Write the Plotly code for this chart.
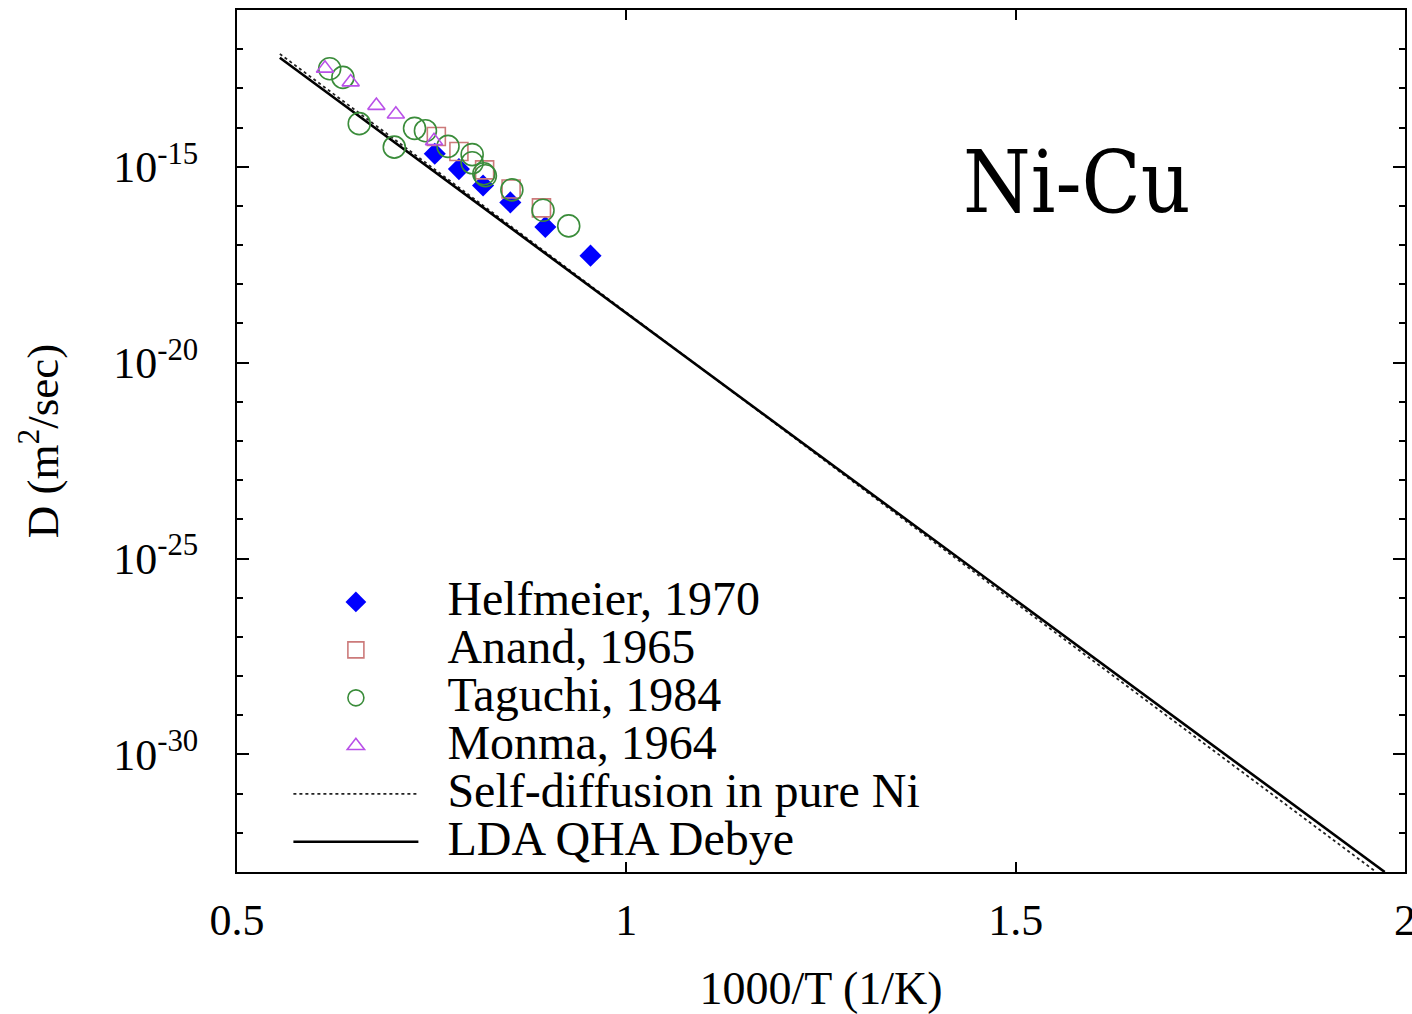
import plotly.graph_objects as go

# ---- data ----
helf_x = [0.754, 0.785, 0.816, 0.851, 0.896, 0.954]
helf_logD = [-14.67, -15.06, -15.48, -15.91, -16.54, -17.27]

anand_x = [0.756, 0.785, 0.818, 0.852, 0.891]
anand_logD = [-14.23, -14.61, -15.08, -15.57, -16.05]

tag_x = [0.619, 0.636, 0.657, 0.702, 0.728, 0.742, 0.771, 0.802, 0.802, 0.817, 0.819, 0.853, 0.893, 0.926]
tag_logD = [-12.50, -12.72, -13.90, -14.50, -14.02, -14.08, -14.48, -14.69, -14.90, -15.18, -15.23, -15.59, -16.11, -16.51]

monma_x = [0.613, 0.646, 0.679, 0.704, 0.753]
monma_logD = [-12.49, -12.84, -13.44, -13.66, -14.34]

self_x = [0.555, 1.963]
self_logD = [-12.12, -33.0]

lda_x = [0.555, 1.974]
lda_logD = [-12.22, -33.0]

x_ticks = [0.5, 1, 1.5, 2]
x_ticklabels = ["0.5", "1", "1.5", "2"]
y_major_exp = [-15, -20, -25, -30]
y_minor_exp = list(range(-32, -10))

def D(vals):
    return [10 ** v for v in vals]

LEG = "<span style='font-size:48px'>&nbsp;&nbsp;{}</span>"
SERIF = "Liberation Serif, Times New Roman, serif"

fig = go.Figure()

fig.add_trace(go.Scatter(x=self_x, y=D(self_logD), mode="lines",
                         name=LEG.format("Self-diffusion in pure Ni"), legendrank=5,
                         line=dict(color="#222222", width=1.8, dash="dot")))
fig.add_trace(go.Scatter(x=lda_x, y=D(lda_logD), mode="lines",
                         name=LEG.format("LDA QHA Debye"), legendrank=6,
                         line=dict(color="black", width=2.6)))
fig.add_trace(go.Scatter(x=helf_x, y=D(helf_logD), mode="markers",
                         name=LEG.format("Helfmeier, 1970"), legendrank=1,
                         marker=dict(symbol="diamond", size=17, color="#0000ff",
                                     line=dict(width=0))))
fig.add_trace(go.Scatter(x=anand_x, y=D(anand_logD), mode="markers",
                         name=LEG.format("Anand, 1965"), legendrank=2,
                         marker=dict(symbol="square-open", size=18, color="#cc7a7a",
                                     line=dict(width=1.6, color="#cc7a7a"))))
fig.add_trace(go.Scatter(x=tag_x, y=D(tag_logD), mode="markers",
                         name=LEG.format("Taguchi, 1984"), legendrank=3,
                         marker=dict(symbol="circle-open", size=22, color="#3a8c3a",
                                     line=dict(width=1.6, color="#3a8c3a"))))
fig.add_trace(go.Scatter(x=monma_x, y=D(monma_logD), mode="markers",
                         name=LEG.format("Monma, 1964"), legendrank=4,
                         marker=dict(symbol="triangle-up-open", size=15, color="#b950e8",
                                     line=dict(width=1.6, color="#b950e8"))))

fig.update_layout(
    width=1412, height=1014,
    margin=dict(l=237, r=7, t=10, b=142, autoexpand=False),
    paper_bgcolor="white", plot_bgcolor="white",
    font=dict(family=SERIF, size=44, color="black"),
    showlegend=True,
    legend=dict(x=0.044, y=0.347, xanchor="left", yanchor="top",
                bgcolor="rgba(0,0,0,0)", borderwidth=0,
                font=dict(family=SERIF, size=34.6, color="black"),
                itemwidth=125, itemsizing="trace", tracegroupgap=0),
    xaxis=dict(range=[0.5, 2.0], tickmode="array", tickvals=x_ticks, ticktext=x_ticklabels,
               ticks="inside", ticklen=10, tickwidth=1.5, tickcolor="black",
               showline=True, linecolor="black", linewidth=2, mirror="ticks",
               showgrid=False, zeroline=False, ticklabelstandoff=8,
               ticklabeloverflow="allow", automargin=False,
               tickfont=dict(family=SERIF, size=44),
               title=dict(text="1000/T (1/K)", font=dict(family=SERIF, size=46), standoff=30)),
    yaxis=dict(type="log", range=[-33, -11], tickmode="array",
               tickvals=[10 ** e for e in y_major_exp],
               ticktext=["10<sup>%d</sup>" % e for e in y_major_exp],
               ticks="inside", ticklen=12, tickwidth=1.5, tickcolor="black",
               showline=True, linecolor="black", linewidth=2, mirror="ticks",
               showgrid=False, zeroline=False, ticklabelstandoff=28, automargin=False,
               tickfont=dict(family=SERIF, size=44),
               minor=dict(tickmode="array", tickvals=[10 ** e for e in y_minor_exp],
                          ticks="inside", ticklen=6, tickwidth=1.5, tickcolor="black",
                          showgrid=False),
               title=dict(text="D (m<sup>2</sup>/sec)", font=dict(family=SERIF, size=45), standoff=40)),
    annotations=[dict(text="Ni-Cu", xref="paper", yref="paper", x=0.719, y=0.80,
                      xanchor="center", yanchor="middle", showarrow=False,
                      font=dict(family="DejaVu Serif Condensed, DejaVu Serif", size=86, color="black"))],
)

fig.write_html("out.html")
